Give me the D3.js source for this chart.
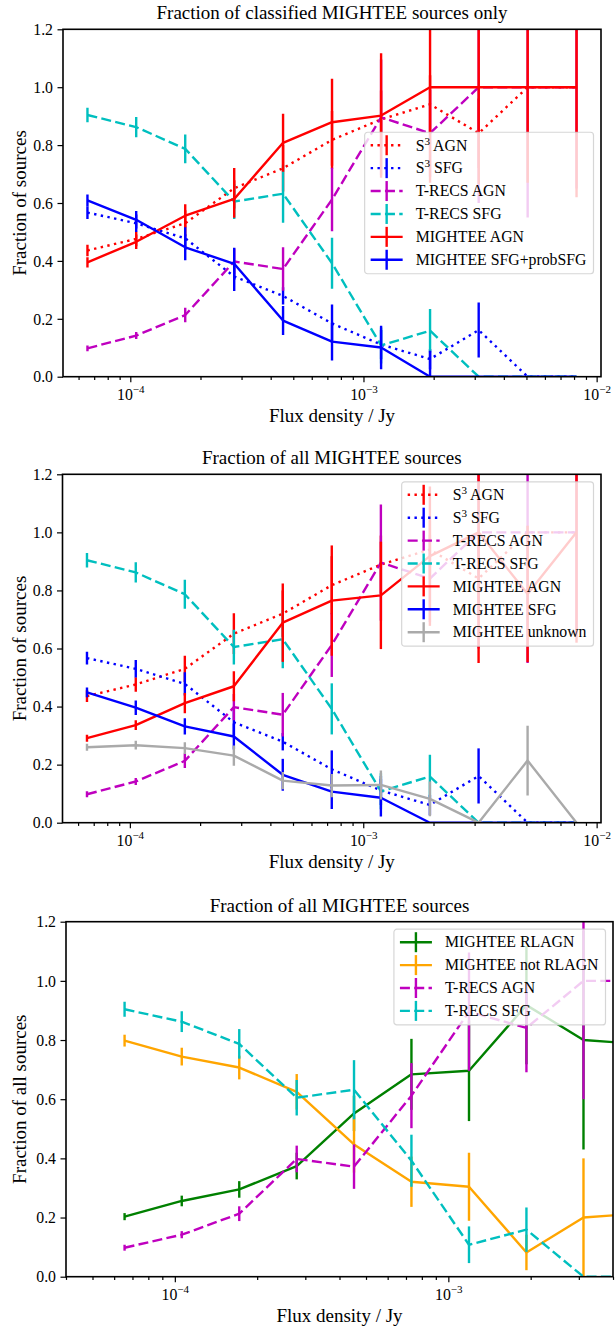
<!DOCTYPE html>
<html>
<head>
<meta charset="utf-8">
<script src="https://cdn.jsdelivr.net/npm/d3@7"></script>
<style>
  html, body { margin: 0; padding: 0; background: #fff; }
  svg { display: block; }
  text { font-family: "Liberation Serif", "Times New Roman", "DejaVu Serif", serif; fill: #000; }
</style>
</head>
<body>
<svg id="fig" width="616" height="1328"></svg>
<script>
// ---- bins and ticks ----
const fluxBins = [6.55e-5, 1.06e-4, 1.72e-4, 2.79e-4, 4.52e-4, 7.33e-4, 1.19e-3, 1.93e-3, 3.12e-3, 5.06e-3, 8.2e-3];
const yTicks = [0, 0.2, 0.4, 0.6, 0.8, 1.0, 1.2];
const xTickExponents = [-4, -3, -2];

// ---- simulations (same in every panel) ----
const s3Agn      = [0.436, 0.476, 0.530, 0.651, 0.720, 0.818, 0.889, 0.941, 0.841, 1.0, 1.0];
const s3AgnErr   = [0.020, 0.025, 0.045, 0.070, 0.080, 0.100, 0.100, 0.100, 0.120, 0, 0];
const s3Sfg      = [0.567, 0.530, 0.478, 0.346, 0.279, 0.184, 0.111, 0.061, 0.161, 0.0, 0.0];
const s3SfgErr   = [0.022, 0.030, 0.040, 0.050, 0.030, 0.065, 0.050, 0.035, 0.095, 0, 0];
const trecsAgn    = [0.098, 0.142, 0.213, 0.398, 0.372, 0.612, 0.896, 0.841, 1.0, 1.0, 1.0];
const trecsAgnErr = [0.010, 0.012, 0.025, 0.045, 0.075, 0.110, 0.200, 0.150, 0.400, 0.450, 0.350];
const trecsSfg    = [0.904, 0.862, 0.787, 0.605, 0.632, 0.392, 0.108, 0.159, 0.0, 0.0, 0.0];
const trecsSfgErr = [0.025, 0.035, 0.050, 0.060, 0.100, 0.088, 0.062, 0.075, 0, 0, 0];

// ---- MIGHTEE, classified sources only ----
const mightAgnCls    = [0.395, 0.466, 0.556, 0.614, 0.808, 0.879, 0.902, 1.0, 1.0, 1.0, 1.0];
const mightAgnClsErr = [0.018, 0.025, 0.040, 0.065, 0.100, 0.150, 0.215, 0.330, 0.335, 0.330, 0.380];
const mightSfgCls    = [0.609, 0.542, 0.447, 0.390, 0.194, 0.121, 0.101, 0.0, 0.0, 0.0, 0.0];
const mightSfgClsErr = [0.020, 0.030, 0.045, 0.055, 0.050, 0.065, 0.075, 0.090, 0, 0, 0];

// ---- MIGHTEE, all sources ----
const mightAgnAll    = [0.291, 0.336, 0.412, 0.470, 0.689, 0.765, 0.783, 0.918, 1.0, 0.788, 1.0];
const mightAgnAllErr = [0.012, 0.017, 0.035, 0.052, 0.135, 0.190, 0.185, 0.240, 0.450, 0.235, 0.380];
const mightSfgAll    = [0.449, 0.396, 0.332, 0.297, 0.165, 0.107, 0.086, 0.0, 0.0, 0.0, 0.0];
const mightSfgAllErr = [0.017, 0.025, 0.028, 0.045, 0.055, 0.060, 0.065, 0, 0, 0, 0];
const mightUnknown    = [0.260, 0.267, 0.257, 0.231, 0.145, 0.128, 0.130, 0.082, 0.0, 0.214, 0.0];
const mightUnknownErr = [0.012, 0.015, 0.020, 0.035, 0.030, 0.040, 0.050, 0.060, 0, 0.120, 0];

// ---- MIGHTEE radio-loud split ----
const mightRlagn     = [0.203, 0.256, 0.295, 0.374, 0.552, 0.684, 0.696, 0.918, 0.800, 0.786, 1.0];
const mightRlagnErr  = [0.012, 0.018, 0.028, 0.045, 0.060, 0.120, 0.170, 0.200, 0.370, 0.400, 0.400];
const mightNotRl     = [0.798, 0.744, 0.707, 0.625, 0.447, 0.321, 0.304, 0.082, 0.200, 0.214, 0.0];
const mightNotRlErr  = [0.020, 0.030, 0.040, 0.060, 0.095, 0.085, 0.115, 0.060, 0.200, 0.200, 0];

// ---- styling ----
const RED = "#ff0000", BLUE = "#0000ff", MAG = "#bf00bf", CYAN = "#00bfbf",
      GREEN = "#008000", ORANGE = "#ffa500", GREY = "#aaaaaa";
const LW = 2.4;
const DASH = { solid: null, dotted: "2.4 4.4", dashed: "10 4.3" };
const FS_TICK = 15.8, FS_LEG = 15.8, FS_TITLE = 19, FS_LABEL = 19;

const logLo = Math.log10(d3.min(fluxBins)), logHi = Math.log10(d3.max(fluxBins));
const logPad = 0.05 * (logHi - logLo);
const autoDomain = [Math.pow(10, logLo - logPad), Math.pow(10, logHi + logPad)];

const panels = [
  {
    box: { left: 63, right: 601, top: 29.3, bottom: 376.7 },
    xDomain: autoDomain,
    title: "Fraction of classified MIGHTEE sources only",
    ylabel: "Fraction of sources",
    legendLoc: "center right",
    series: [
      { label: "S^3 AGN", y: s3Agn, err: s3AgnErr, color: RED, style: "dotted" },
      { label: "S^3 SFG", y: s3Sfg, err: s3SfgErr, color: BLUE, style: "dotted" },
      { label: "T-RECS AGN", y: trecsAgn, err: trecsAgnErr, color: MAG, style: "dashed" },
      { label: "T-RECS SFG", y: trecsSfg, err: trecsSfgErr, color: CYAN, style: "dashed" },
      { label: "MIGHTEE AGN", y: mightAgnCls, err: mightAgnClsErr, color: RED, style: "solid" },
      { label: "MIGHTEE SFG+probSFG", y: mightSfgCls, err: mightSfgClsErr, color: BLUE, style: "solid" }
    ]
  },
  {
    box: { left: 62.5, right: 601, top: 474.3, bottom: 822.7 },
    xDomain: autoDomain,
    title: "Fraction of all MIGHTEE sources",
    ylabel: "Fraction of sources",
    legendLoc: "upper right",
    series: [
      { label: "S^3 AGN", y: s3Agn, err: s3AgnErr, color: RED, style: "dotted" },
      { label: "S^3 SFG", y: s3Sfg, err: s3SfgErr, color: BLUE, style: "dotted" },
      { label: "T-RECS AGN", y: trecsAgn, err: trecsAgnErr, color: MAG, style: "dashed" },
      { label: "T-RECS SFG", y: trecsSfg, err: trecsSfgErr, color: CYAN, style: "dashed" },
      { label: "MIGHTEE AGN", y: mightAgnAll, err: mightAgnAllErr, color: RED, style: "solid" },
      { label: "MIGHTEE SFG", y: mightSfgAll, err: mightSfgAllErr, color: BLUE, style: "solid" },
      { label: "MIGHTEE unknown", y: mightUnknown, err: mightUnknownErr, color: GREY, style: "solid" }
    ]
  },
  {
    box: { left: 66, right: 613, top: 921.7, bottom: 1276.7 },
    xDomain: [4e-5, 4e-3],
    title: "Fraction of all MIGHTEE sources",
    ylabel: "Fraction of all sources",
    legendLoc: "upper right",
    series: [
      { label: "MIGHTEE RLAGN", y: mightRlagn, err: mightRlagnErr, color: GREEN, style: "solid" },
      { label: "MIGHTEE not RLAGN", y: mightNotRl, err: mightNotRlErr, color: ORANGE, style: "solid" },
      { label: "T-RECS AGN", y: trecsAgn, err: trecsAgnErr, color: MAG, style: "dashed" },
      { label: "T-RECS SFG", y: trecsSfg, err: trecsSfgErr, color: CYAN, style: "dashed" }
    ]
  }
];

const svg = d3.select("#fig");

// label text like "S^3 AGN" -> tspans with a raised superscript
function writeLabel(textSel, label, size) {
  const m = label.match(/^(.*?)\^(\S)(.*)$/);
  if (!m) { textSel.text(label); return; }
  textSel.append("tspan").text(m[1]);
  textSel.append("tspan").attr("font-size", size * 0.7).attr("dy", -size * 0.38).text(m[2]);
  textSel.append("tspan").attr("dy", size * 0.38).text(m[3]);
}

panels.forEach((p, pi) => {
  const b = p.box;
  const x = d3.scaleLog().domain(p.xDomain).range([b.left, b.right]);
  const y = d3.scaleLinear().domain([0, 1.2]).range([b.bottom, b.top]);
  const g = svg.append("g");

  const clipId = "clip" + pi;
  svg.append("defs").append("clipPath").attr("id", clipId)
    .append("rect").attr("x", b.left).attr("y", b.top)
    .attr("width", b.right - b.left).attr("height", b.bottom - b.top);

  // data: line then its error bars, in plotting order
  const data = g.append("g").attr("clip-path", `url(#${clipId})`);
  const line = d3.line().x(d => x(d.x)).y(d => y(d.v));
  p.series.forEach(s => {
    const pts = fluxBins.map((f, i) => ({ x: f, v: s.y[i], e: s.err[i] }));
    data.append("path").datum(pts)
      .attr("d", line)
      .attr("fill", "none")
      .attr("stroke", s.color)
      .attr("stroke-width", LW)
      .attr("stroke-linejoin", "round")
      .attr("stroke-dasharray", DASH[s.style]);
    data.append("g").selectAll("line")
      .data(pts.filter(d => d.e > 0))
      .join("line")
      .attr("x1", d => x(d.x)).attr("x2", d => x(d.x))
      .attr("y1", d => y(d.v - d.e)).attr("y2", d => y(d.v + d.e))
      .attr("stroke", s.color)
      .attr("stroke-width", LW);
  });

  // x axis: major and minor ticks
  const [d0, d1] = p.xDomain;
  const majors = xTickExponents.map(e => Math.pow(10, e)).filter(v => v >= d0 * 0.999 && v <= d1 * 1.001);
  const minors = [];
  for (let e = -6; e <= -1; e++) for (let m = 2; m <= 9; m++) {
    const v = m * Math.pow(10, e);
    if (v >= d0 * 0.999 && v <= d1 * 1.001) minors.push(v);
  }
  const xMajor = g.append("g").attr("transform", `translate(0,${b.bottom})`)
    .call(d3.axisBottom(x).tickValues(majors).tickSize(5.5).tickFormat(() => ""));
  const xMinor = g.append("g").attr("transform", `translate(0,${b.bottom})`)
    .call(d3.axisBottom(x).tickValues(minors).tickSize(3.2).tickFormat(() => ""));
  [xMajor, xMinor].forEach(a => {
    a.select(".domain").remove();
    a.selectAll(".tick line").attr("stroke", "#000").attr("stroke-width", 1.2);
  });
  xMajor.selectAll(".tick").each(function (v) {
    const t = d3.select(this).append("text")
      .attr("y", 23).attr("text-anchor", "middle")
      .attr("font-size", FS_TICK);
    t.append("tspan").text("10");
    t.append("tspan").attr("font-size", FS_TICK * 0.7).attr("dy", -7)
      .text("\u2212" + Math.abs(Math.round(Math.log10(v))));
  });

  // y axis
  const yAx = g.append("g").attr("transform", `translate(${b.left},0)`)
    .call(d3.axisLeft(y).tickValues(yTicks).tickSize(5.5).tickPadding(4.5).tickFormat(d3.format(".1f")));
  yAx.select(".domain").remove();
  yAx.selectAll(".tick line").attr("stroke", "#000").attr("stroke-width", 1.2);
  yAx.selectAll(".tick text")
    .attr("font-size", FS_TICK)
    .attr("fill", "#000")
    .attr("dy", "0.33em");

  // frame
  g.append("rect")
    .attr("x", b.left).attr("y", b.top)
    .attr("width", b.right - b.left).attr("height", b.bottom - b.top)
    .attr("fill", "none").attr("stroke", "#000").attr("stroke-width", 1.6);

  // titles and axis labels
  g.append("text").attr("x", (b.left + b.right) / 2).attr("y", b.top - 10)
    .attr("text-anchor", "middle").attr("font-size", FS_TITLE).text(p.title);
  g.append("text").attr("x", (b.left + b.right) / 2).attr("y", b.bottom + 45)
    .attr("text-anchor", "middle").attr("font-size", FS_LABEL).text("Flux density / Jy");
  g.append("text")
    .attr("transform", `translate(25.5,${(b.top + b.bottom) / 2}) rotate(-90)`)
    .attr("text-anchor", "middle").attr("font-size", FS_LABEL).text(p.ylabel);

  // legend
  const rowGap = 22.9, n = p.series.length;
  const lg = g.append("g");
  const bg = lg.append("rect");
  const items = lg.append("g");
  let maxW = 0;
  p.series.forEach((s, i) => {
    const t = items.append("text").attr("x", 51).attr("y", 13 + i * rowGap + 5.3)
      .attr("font-size", FS_LEG);
    writeLabel(t, s.label, FS_LEG);
    maxW = Math.max(maxW, t.node().getComputedTextLength());
  });
  const lw = 51 + maxW + 7;
  const lh = 27 + (n - 1) * rowGap;
  const lx = b.right - 7.5 - lw;
  const ly = p.legendLoc === "center right" ? (b.top + b.bottom) / 2 - lh / 2 : b.top + 7.5;
  lg.attr("transform", `translate(${lx},${ly})`);
  bg.attr("width", lw).attr("height", lh).attr("rx", 3).attr("ry", 3)
    .attr("fill", "#fff").attr("fill-opacity", 0.8)
    .attr("stroke", "#cccccc").attr("stroke-opacity", 0.8).attr("stroke-width", 1.2);
  p.series.forEach((s, i) => {
    const cy = 13 + i * rowGap;
    items.append("line").attr("x1", 6).attr("x2", 38).attr("y1", cy).attr("y2", cy)
      .attr("stroke", s.color).attr("stroke-width", LW)
      .attr("stroke-dasharray", DASH[s.style]);
    items.append("line").attr("x1", 22).attr("x2", 22).attr("y1", cy - 10).attr("y2", cy + 10)
      .attr("stroke", s.color).attr("stroke-width", LW);
  });
});
</script>
</body>
</html>
